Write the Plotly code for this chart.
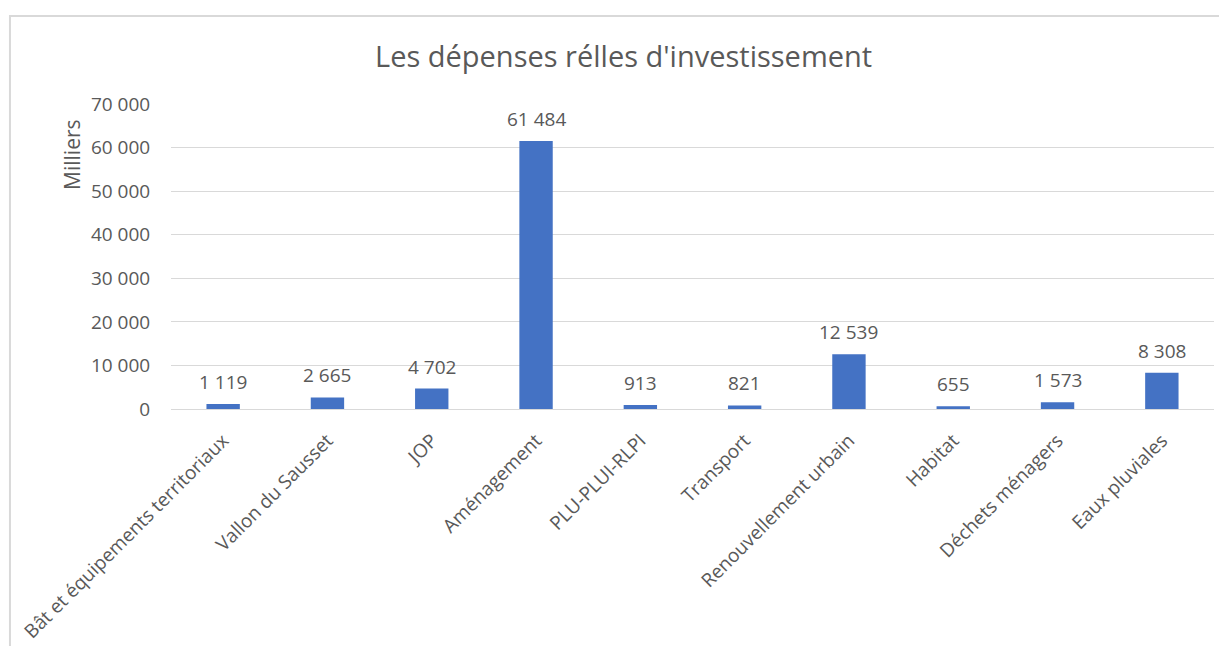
import plotly.graph_objects as go

categories = [
    "Bât et équipements territoriaux", "Vallon du Sausset", "JOP", "Aménagement",
    "PLU-PLUI-RLPI", "Transport", "Renouvellement urbain", "Habitat",
    "Déchets ménagers", "Eaux pluviales",
]
values = [1119, 2665, 4702, 61484, 913, 821, 12539, 655, 1573, 8308]
y_ticks = [0, 10000, 20000, 30000, 40000, 50000, 60000, 70000]

FONT = "Open Sans"
GREY = "#595959"

fig = go.Figure(go.Bar(
    x=categories, y=values,
    marker=dict(color="#4472C4", line=dict(width=0)),
    hovertemplate="%{x}: %{y:,.0f}<extra></extra>",
))

# étiquettes de valeur au-dessus des barres
labels = [
    dict(x=c, y=v, text=f"{v:,}".replace(",", " "), showarrow=False,
         xanchor="center", yanchor="bottom", yshift=7,
         font=dict(family=FONT, size=19, color=GREY))
    for c, v in zip(categories, values)
]

fig.update_layout(
    title=dict(text="Les dépenses rélles d'investissement", x=0.505, y=0.923,
               xanchor="center", yanchor="middle",
               font=dict(family=FONT, size=29, color=GREY)),
    separators=", ",
    width=1219, height=638,
    margin=dict(l=163, r=13, t=96, b=237, autoexpand=False),
    paper_bgcolor="white", plot_bgcolor="white",
    bargap=0.68, showlegend=False,
    xaxis=dict(tickangle=-45, tickfont=dict(family=FONT, size=19, color=GREY),
               showline=True, linecolor="#d9d9d9", linewidth=1, automargin=False,
               ticks="outside", ticklen=12, tickcolor="white"),
    yaxis=dict(range=[0, 70000], tickvals=y_ticks, tickformat=",.0f",
               tickfont=dict(family=FONT, size=19, color=GREY), automargin=False,
               gridcolor="#d9d9d9", gridwidth=1, zeroline=False,
               ticklen=16, ticks="outside", tickcolor="white"),
    shapes=[dict(type="path", xref="paper", yref="paper",
                 path="M -0.1544 -0.78 L -0.1544 1.2885 L 1.04 1.2885",
                 line=dict(color="#d9d9d9", width=2))],
    annotations=labels + [dict(text="Milliers", xref="paper", yref="paper",
                               x=-0.0949, y=0.833, textangle=-90, showarrow=False,
                               xanchor="center", yanchor="middle",
                               font=dict(family=FONT, size=21, color=GREY))],
)

fig.write_html("out.html")
